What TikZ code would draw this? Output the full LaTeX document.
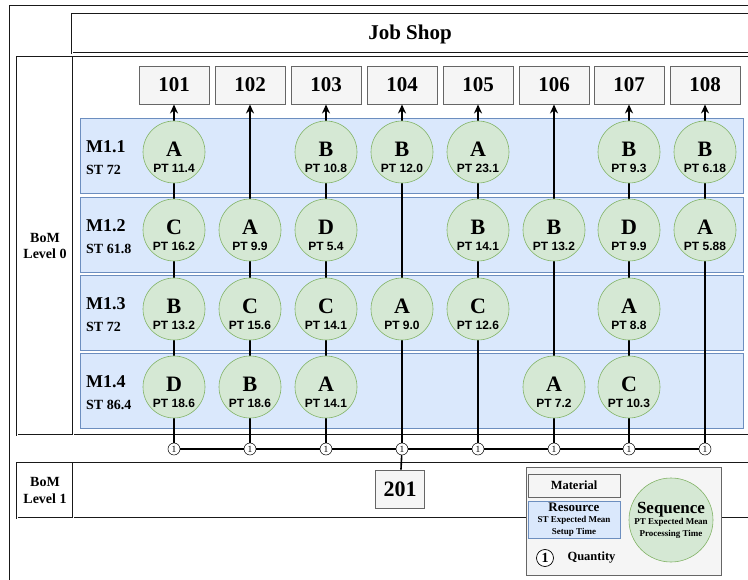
\documentclass[tikz,border=0pt]{standalone}
\usepackage{fontspec}
\setmainfont{Liberation Serif}
\setsansfont{Liberation Sans}
\usetikzlibrary{arrows.meta}

% sequence circle: name, position, letter, processing time
\newcommand{\seqnode}[4]{%
  \node[seqcirc] (#1) at #2 {};
  \node[seqlet] at ([yshift=3pt]#1.center) {#3};
  \node[seqpt] at ([yshift=-16.5pt]#1.center) {PT #4};
}
\newcommand{\smallb}{\fontsize{9}{10.5}\selectfont}

\begin{document}
\begin{tikzpicture}[x=1pt, y=-1pt,
  frame/.style={draw=black!90, line width=0.7pt, double=white, double distance=0.8pt},
  resrow/.style={draw=rowdraw, fill=rowfill, line width=0.8pt, minimum width=663pt, minimum height=75pt, inner sep=0pt},
  matbox/.style={draw=matdraw, fill=matfill, line width=0.9pt, minimum width=70pt, minimum height=38pt, inner sep=0pt, font=\fontsize{21}{22}\selectfont\bfseries},
  seqcirc/.style={circle, draw=seqdraw, fill=seqfill, line width=0.6pt, minimum size=62pt, inner sep=0pt},
  seqlet/.style={inner sep=0pt, font=\fontsize{22}{24}\selectfont\bfseries},
  seqpt/.style={inner sep=0pt, font=\sffamily\bfseries\fontsize{12}{13}\selectfont},
  qtycirc/.style={circle, draw, fill=white, line width=0.5pt, minimum size=12pt, inner sep=0pt, font=\fontsize{9.5}{9}\selectfont},
  mlab/.style={anchor=west, inner sep=0pt, font=\fontsize{18}{20}\selectfont\bfseries},
  stlab/.style={anchor=west, inner sep=0pt, font=\fontsize{14}{16}\selectfont\bfseries},
  bomlab/.style={align=center, inner sep=0pt, font=\fontsize{14}{16.5}\selectfont\bfseries},
  link/.style={line width=1.4pt, -{Stealth[length=9pt,width=8pt]}},
  bar/.style={line width=1.6pt}]
\definecolor{rowfill}{HTML}{DAE8FC}
\definecolor{rowdraw}{HTML}{6C8EBF}
\definecolor{seqfill}{HTML}{D5E8D4}
\definecolor{seqdraw}{HTML}{82B366}
\definecolor{matfill}{HTML}{F5F5F5}
\definecolor{matdraw}{HTML}{666666}

\useasboundingbox (0,0) rectangle (748,580);
\clip (0,0) rectangle (748,580);

% frames
\draw[frame] (10,6) rectangle (770,600);
\draw[frame] (72,14) rectangle (770,53);
\node[font=\fontsize{21}{24}\selectfont\bfseries] (jobshop) at (410,34) {Job Shop};

\draw[frame] (17,57) rectangle (770,435);
\draw[frame] (73,57) -- (73,435);
\node[bomlab] (bom0) at (45,246) {BoM\\Level 0};

\draw[frame] (17,463) rectangle (770,518);
\draw[frame] (73,463) -- (73,518);
\node[bomlab] (bom1) at (45,490.5) {BoM\\Level 1};

% resources
\node[resrow] (r1) at (411.5,155.5) {};
\node[resrow] (r2) at (411.5,234.5) {};
\node[resrow] (r3) at (411.5,312.5) {};
\node[resrow] (r4) at (411.5,390.5) {};

\node[mlab] (m11) at (86,146.5) {M1.1};
\node[stlab] (st11) at (86,169.5) {ST 72};
\node[mlab] (m12) at (86,225.5) {M1.2};
\node[stlab] (st12) at (86,248.5) {ST 61.8};
\node[mlab] (m13) at (86,303.5) {M1.3};
\node[stlab] (st13) at (86,326.5) {ST 72};
\node[mlab] (m14) at (86,381.5) {M1.4};
\node[stlab] (st14) at (86,404.5) {ST 86.4};

% materials
\node[matbox] (p101) at (174,85) {101};
\node[matbox] (p102) at (250,85) {102};
\node[matbox] (p103) at (326,85) {103};
\node[matbox] (p104) at (402,85) {104};
\node[matbox] (p105) at (478,85) {105};
\node[matbox] (p106) at (554,85) {106};
\node[matbox] (p107) at (629,85) {107};
\node[matbox] (p108) at (705,85) {108};
\node[matbox, minimum width=49pt, font=\fontsize{22}{24}\selectfont\bfseries] (p201) at (400,489) {201};

% quantities
\node[qtycirc] (q1) at (174,449) {1};
\node[qtycirc] (q2) at (250,449) {1};
\node[qtycirc] (q3) at (326,449) {1};
\node[qtycirc] (q4) at (402,449) {1};
\node[qtycirc] (q5) at (478,449) {1};
\node[qtycirc] (q6) at (554,449) {1};
\node[qtycirc] (q7) at (629,449) {1};
\node[qtycirc] (q8) at (705,449) {1};

\draw[link] (q1) -- (p101);
\draw[link] (q2) -- (p102);
\draw[link] (q3) -- (p103);
\draw[link] (q4) -- (p104);
\draw[link] (q5) -- (p105);
\draw[link] (q6) -- (p106);
\draw[link] (q7) -- (p107);
\draw[link] (q8) -- (p108);
\draw[bar] (q1) -- (q2) -- (q3) -- (q4) -- (q5) -- (q6) -- (q7) -- (q8);
\draw[bar] (q4) -- (p201);

% sequences, M1.1
\seqnode{s11}{(174,152)}{A}{11.4}
\seqnode{s13}{(326,152)}{B}{10.8}
\seqnode{s14}{(402,152)}{B}{12.0}
\seqnode{s15}{(478,152)}{A}{23.1}
\seqnode{s17}{(629,152)}{B}{9.3}
\seqnode{s18}{(705,152)}{B}{6.18}
% M1.2
\seqnode{s21}{(174,230)}{C}{16.2}
\seqnode{s22}{(250,230)}{A}{9.9}
\seqnode{s23}{(326,230)}{D}{5.4}
\seqnode{s25}{(478,230)}{B}{14.1}
\seqnode{s26}{(554,230)}{B}{13.2}
\seqnode{s27}{(629,230)}{D}{9.9}
\seqnode{s28}{(705,230)}{A}{5.88}
% M1.3
\seqnode{s31}{(174,309)}{B}{13.2}
\seqnode{s32}{(250,309)}{C}{15.6}
\seqnode{s33}{(326,309)}{C}{14.1}
\seqnode{s34}{(402,309)}{A}{9.0}
\seqnode{s35}{(478,309)}{C}{12.6}
\seqnode{s37}{(629,309)}{A}{8.8}
% M1.4
\seqnode{s41}{(174,387)}{D}{18.6}
\seqnode{s42}{(250,387)}{B}{18.6}
\seqnode{s43}{(326,387)}{A}{14.1}
\seqnode{s46}{(554,387)}{A}{7.2}
\seqnode{s47}{(629,387)}{C}{10.3}

% legend
\node[draw=matdraw, fill=matfill, line width=0.8pt, minimum width=195pt, minimum height=108pt, inner sep=0pt] (legend) at (623.5,521) {};
\node[matbox, minimum width=92pt, minimum height=23pt, font=\fontsize{12.5}{14}\selectfont\bfseries] (lmat) at (574,485.5) {Material};
\node[resrow, minimum width=92pt, minimum height=37pt, align=center, font=\bfseries] (lres) at (574,519.5)
  {\fontsize{13}{12}\selectfont Resource\\[-1pt]\smallb ST Expected Mean\\\smallb Setup Time};
\node[qtycirc, minimum size=17pt, line width=0.7pt, font=\fontsize{14}{14}\selectfont\bfseries] (lqty) at (545,558) {1};
\node[inner sep=0pt, font=\fontsize{12.5}{14}\selectfont\bfseries] (lqtxt) at (591.5,558) {Quantity};
\node[seqcirc, minimum size=84pt, align=center, font=\bfseries] (lseq) at (671,520)
  {\fontsize{17}{16}\selectfont Sequence\\[-1pt]\smallb PT Expected Mean\\\smallb Processing Time};

\end{tikzpicture}
\end{document}
